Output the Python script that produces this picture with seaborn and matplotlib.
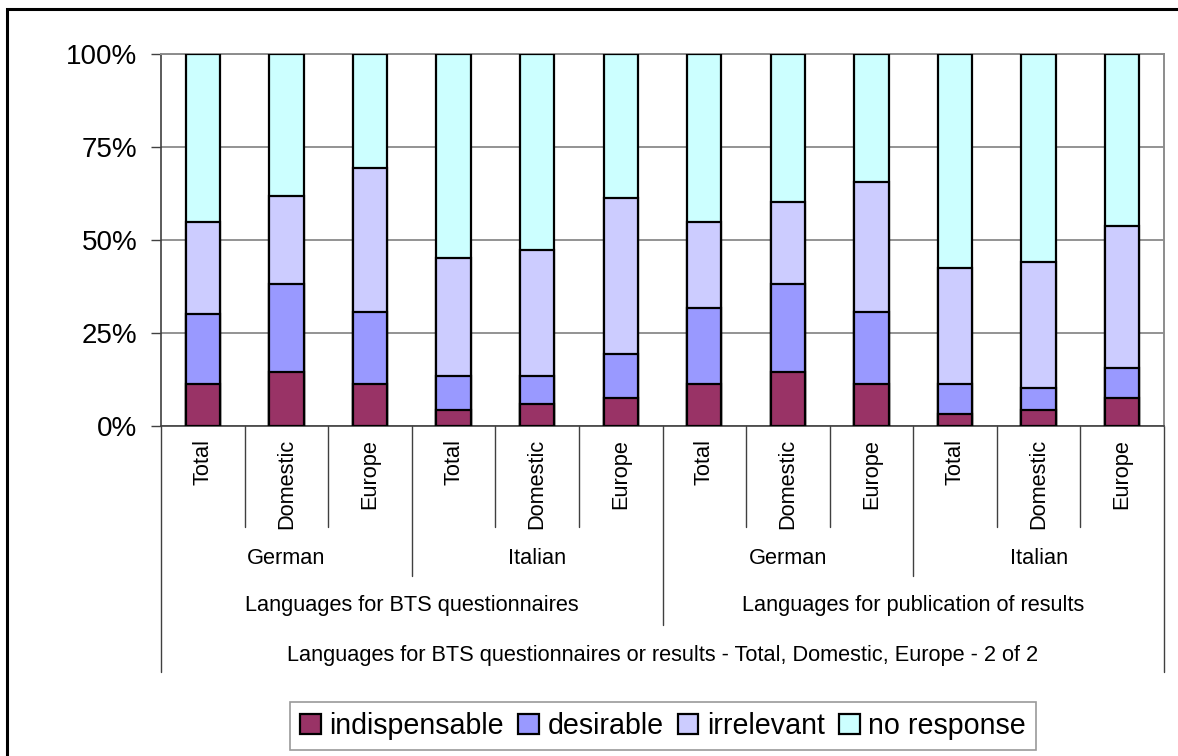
import matplotlib
matplotlib.use("Agg")
import matplotlib.pyplot as plt
from matplotlib.patches import Patch, Rectangle
from matplotlib.lines import Line2D
import numpy as np
import pandas as pd
import seaborn as sns

# ---- data (percent of respondents per answer) ----
purposes = ["Languages for BTS questionnaires", "Languages for publication of results"]
languages = ["German", "Italian"]
regions = ["Total", "Domestic", "Europe"]
series = ["indispensable", "desirable", "irrelevant", "no response"]

indispensable = [11.3, 14.4, 11.3, 4.3, 5.8, 7.4, 11.3, 14.4, 11.3, 3.2, 4.3, 7.4]
desirable = [18.7, 23.7, 19.3, 9.2, 7.7, 12.0, 20.4, 23.8, 19.3, 8.1, 5.9, 8.2]
irrelevant = [24.8, 23.8, 38.8, 31.6, 33.8, 41.9, 23.1, 22.1, 35.0, 31.2, 34.0, 38.2]
no_response = [45.2, 38.1, 30.6, 54.9, 52.7, 38.7, 45.2, 39.7, 34.4, 57.5, 55.8, 46.2]

title = "Languages for BTS questionnaires or results - Total, Domestic, Europe - 2 of 2"
colors = ["#993366", "#9999FF", "#CCCCFF", "#CCFFFF"]

# ---- long-form table with cumulative heights for stacking ----
bar_ids = [f"{p}|{l}|{r}" for p in purposes for l in languages for r in regions]
values = np.array([indispensable, desirable, irrelevant, no_response])
cumulative = np.cumsum(values, axis=0)
rows = []
for s_idx, s in enumerate(series):
    for b_idx, b in enumerate(bar_ids):
        rows.append({"bar": b, "series": s, "top": cumulative[s_idx, b_idx]})
df = pd.DataFrame(rows)

sns.set_theme(style="white")
plt.rcParams["font.family"] = ["Liberation Sans", "DejaVu Sans"]
plt.rcParams["text.color"] = "black"
plt.rcParams["ytick.labelcolor"] = "black"

W, H = 1178, 756
fig = plt.figure(figsize=(W / 100, H / 100), dpi=100)
ax_left, ax_right, ax_top, ax_bottom = 161, 1164, 54, 426
ax = fig.add_axes([ax_left / W, 1 - ax_bottom / H, (ax_right - ax_left) / W, (ax_bottom - ax_top) / H])

# draw tallest cumulative layer first so lower layers sit on top
for s, c in reversed(list(zip(series, colors))):
    sns.barplot(data=df[df["series"] == s], x="bar", y="top", order=bar_ids,
                color=c, width=0.41, edgecolor="black", linewidth=1.6,
                errorbar=None, saturation=1, ax=ax, zorder=3)

ax.set_ylim(0, 100)
ax.set_xlim(-0.5, len(bar_ids) - 0.5)
ax.set_yticks([0, 25, 50, 75, 100])
ax.set_yticklabels([f"{t}%" for t in [0, 25, 50, 75, 100]], fontsize=20, color="black")
ax.tick_params(axis="y", direction="out", length=7, width=1, color="#404040", pad=10, left=True)
ax.tick_params(axis="x", bottom=False, labelbottom=False)
ax.set_xlabel("")
ax.set_ylabel("")
ax.yaxis.grid(True, color="#808080", linewidth=1.2, zorder=0)
ax.set_axisbelow(True)
for side in ["top", "right"]:
    ax.spines[side].set_color("#8c8c8c")
    ax.spines[side].set_linewidth(1.4)
for side in ["left", "bottom"]:
    ax.spines[side].set_color("#404040")
    ax.spines[side].set_linewidth(1.2)

# ---- hierarchical category axis ----
def axy(py):
    return (ax_bottom - py) / (ax_bottom - ax_top)

xt = ax.get_xaxis_transform()
line_kw = dict(color="#404040", linewidth=1.0, transform=xt, clip_on=False)
text_kw = dict(fontsize=15.7, color="black", transform=xt, clip_on=False)

n = len(bar_ids)
for i in range(n + 1):
    x = i - 0.5
    if i == 0 or i == n:
        y_end = 672
    elif i % 6 == 0:
        y_end = 625
    elif i % 3 == 0:
        y_end = 576
    else:
        y_end = 527
    ax.add_line(Line2D([x, x], [0, axy(y_end)], **line_kw))

for i, b in enumerate(bar_ids):
    ax.text(i, axy(439), b.split("|")[2], rotation=90, ha="center", va="top", **text_kw)

for g in range(4):
    ax.text(g * 3 + 1, axy(558), languages[g % 2], ha="center", va="center", **text_kw)

for p_idx, p in enumerate(purposes):
    ax.text(p_idx * 6 + 2.5, axy(605), p, ha="center", va="center", **text_kw)

ax.text((n - 1) / 2, axy(655), title, ha="center", va="center", **text_kw)

# ---- legend ----
handles = [Patch(facecolor=c, edgecolor="black", linewidth=1.6, label=s)
           for s, c in zip(series, colors)]
leg = fig.legend(handles=handles, loc="center", bbox_to_anchor=(663 / W, 1 - 726 / H),
                 ncol=4, fontsize=20.6, frameon=True, fancybox=False,
                 handlelength=0.72, handleheight=0.72, handletextpad=0.3,
                 columnspacing=0.5, borderpad=0.35, borderaxespad=0)
leg.get_frame().set_edgecolor("#808080")
leg.get_frame().set_linewidth(1.2)
for t in leg.get_texts():
    t.set_color("black")

# outer chart frame
fig.patches.append(Rectangle((7 / W, -0.05), 1.2, 1 - 9 / H + 0.05, transform=fig.transFigure,
                             fill=False, edgecolor="black", linewidth=2.2))

fig.savefig("out.png", dpi=100)
